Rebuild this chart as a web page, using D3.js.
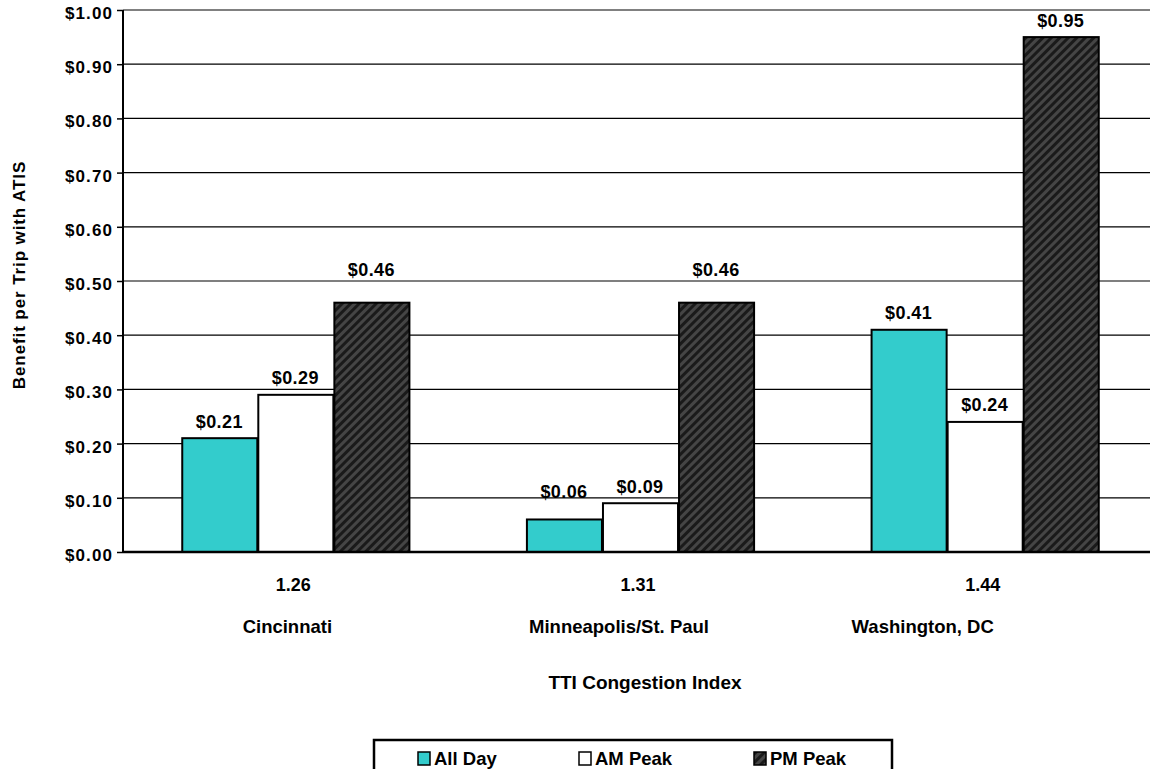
<!DOCTYPE html>
<html>
<head>
<meta charset="utf-8">
<script src="https://cdn.jsdelivr.net/npm/d3@7"></script>
<style>
  html, body { margin: 0; padding: 0; background: #fff; }
  svg { display: block; font-family: "Liberation Sans", Arial, sans-serif; font-weight: bold; }
</style>
</head>
<body>
<svg id="chart" width="1150" height="769"></svg>
<script>
// Cities with their TTI congestion index
const cities = ["Cincinnati", "Minneapolis/St. Paul", "Washington, DC"];
const congestionIndex = ["1.26", "1.31", "1.44"];
const seriesNames = ["All Day", "AM Peak", "PM Peak"];
// Benefit per trip (dollars) for each series, by city
const allDay = [0.21, 0.06, 0.41];
const amPeak = [0.29, 0.09, 0.24];
const pmPeak = [0.46, 0.46, 0.95];
const yTicks = [0, 0.1, 0.2, 0.3, 0.4, 0.5, 0.6, 0.7, 0.8, 0.9, 1.0];

const seriesValues = [allDay, amPeak, pmPeak];
const fills = ["#33CCCC", "#FFFFFF", "url(#stripes)"];

// Layout tweaks: extra lift for some value labels, horizontal nudge of city names
const labelLift = [[0, 11, 0], [0, 0, 0], [16, 16, 0]];
const cityShift = [-8, -21, -62];

const svg = d3.select("#chart");
const plotLeft = 123, plotRight = 1157, plotTop = 10, plotBottom = 552;

// Diagonal stripe fill for the PM Peak bars
const defs = svg.append("defs");
const pat = defs.append("pattern")
  .attr("id", "stripes")
  .attr("patternUnits", "userSpaceOnUse")
  .attr("width", 6).attr("height", 6)
  .attr("patternTransform", "rotate(45)");
pat.append("rect").attr("width", 6).attr("height", 6).attr("fill", "#1a1a1a");
pat.append("rect").attr("x", 0).attr("width", 3).attr("height", 6).attr("fill", "#454545");

const x0 = d3.scaleBand().domain(cities).range([plotLeft, plotRight])
  .paddingInner(0.338).paddingOuter(0.169);
const x1 = d3.scaleBand().domain(seriesNames).range([0, x0.bandwidth()]);
const y = d3.scaleLinear().domain([0, 1]).range([plotBottom, plotTop]);

// Gridlines
svg.append("g").selectAll("line").data(yTicks.filter(d => d > 0)).join("line")
  .attr("x1", plotLeft).attr("x2", 1150)
  .attr("y1", d => y(d)).attr("y2", d => y(d))
  .attr("stroke", d => d === 1 ? "#808080" : "#000")
  .attr("stroke-width", d => d === 1 ? 2 : 1.2);

// Y axis
const yAxis = d3.axisLeft(y).tickValues(yTicks).tickSize(6).tickPadding(4)
  .tickFormat(d => "$" + d.toFixed(2));
const ya = svg.append("g").attr("transform", `translate(${plotLeft},0)`).call(yAxis);
ya.select(".domain").remove();
ya.selectAll(".tick line").attr("stroke", "#000").attr("stroke-width", 1.5);
ya.selectAll(".tick text").attr("font-size", 17).attr("font-weight", "bold")
  .attr("font-family", "Liberation Sans, Arial, sans-serif").attr("fill", "#000")
  .attr("letter-spacing", 1.1).attr("dy", "0.5em");
svg.append("line").attr("x1", plotLeft).attr("x2", plotLeft).attr("y1", plotTop).attr("y2", plotBottom)
  .attr("stroke", "#000").attr("stroke-width", 2);

// Bars with value labels
const groups = svg.append("g").selectAll("g").data(cities).join("g")
  .attr("transform", d => `translate(${x0(d)},0)`);
seriesNames.forEach((s, si) => {
  groups.append("rect")
    .attr("x", x1(s) + 1)
    .attr("width", x1.bandwidth() - 1)
    .attr("y", (d, i) => y(seriesValues[si][i]))
    .attr("height", (d, i) => y(0) - y(seriesValues[si][i]))
    .attr("fill", fills[si])
    .attr("stroke", "#000").attr("stroke-width", 2);
  groups.append("text")
    .attr("x", x1(s) + x1.bandwidth() / 2)
    .attr("y", (d, i) => y(seriesValues[si][i]) - 10.5 - labelLift[si][i])
    .attr("text-anchor", "middle")
    .attr("font-size", 18)
    .attr("letter-spacing", 0.4)
    .text((d, i) => "$" + seriesValues[si][i].toFixed(2));
});

// X axis line
svg.append("line").attr("x1", plotLeft).attr("x2", 1150).attr("y1", plotBottom).attr("y2", plotBottom)
  .attr("stroke", "#000").attr("stroke-width", 2.5);

// Category labels: congestion index and city name
const xl = svg.append("g").selectAll("g").data(cities).join("g")
  .attr("transform", d => `translate(${x0(d) + x0.bandwidth() / 2},0)`);
xl.append("text").attr("x", -2).attr("y", 591).attr("text-anchor", "middle").attr("font-size", 18)
  .text((d, i) => congestionIndex[i]);
xl.append("text").attr("x", (d, i) => cityShift[i]).attr("y", 633)
  .attr("text-anchor", "middle").attr("font-size", 18.5)
  .text(d => d);

// Axis titles
svg.append("text").attr("x", 645).attr("y", 689).attr("text-anchor", "middle")
  .attr("font-size", 19).text("TTI Congestion Index");
svg.append("text").attr("transform", "translate(25,275) rotate(-90)")
  .attr("text-anchor", "middle").attr("font-size", 17).attr("letter-spacing", 0.9)
  .text("Benefit per Trip with ATIS");

// Legend
const lg = svg.append("g");
lg.append("rect").attr("x", 374).attr("y", 740).attr("width", 518).attr("height", 40)
  .attr("fill", "#fff").attr("stroke", "#000").attr("stroke-width", 2.5);
const legendX = [418, 579, 754];
seriesNames.forEach((s, i) => {
  lg.append("rect").attr("x", legendX[i]).attr("y", 752).attr("width", 12).attr("height", 13)
    .attr("fill", fills[i]).attr("stroke", "#000").attr("stroke-width", 1.5);
  lg.append("text").attr("x", legendX[i] + 16).attr("y", 765).attr("font-size", 18.5).text(s);
});
</script>
</body>
</html>
